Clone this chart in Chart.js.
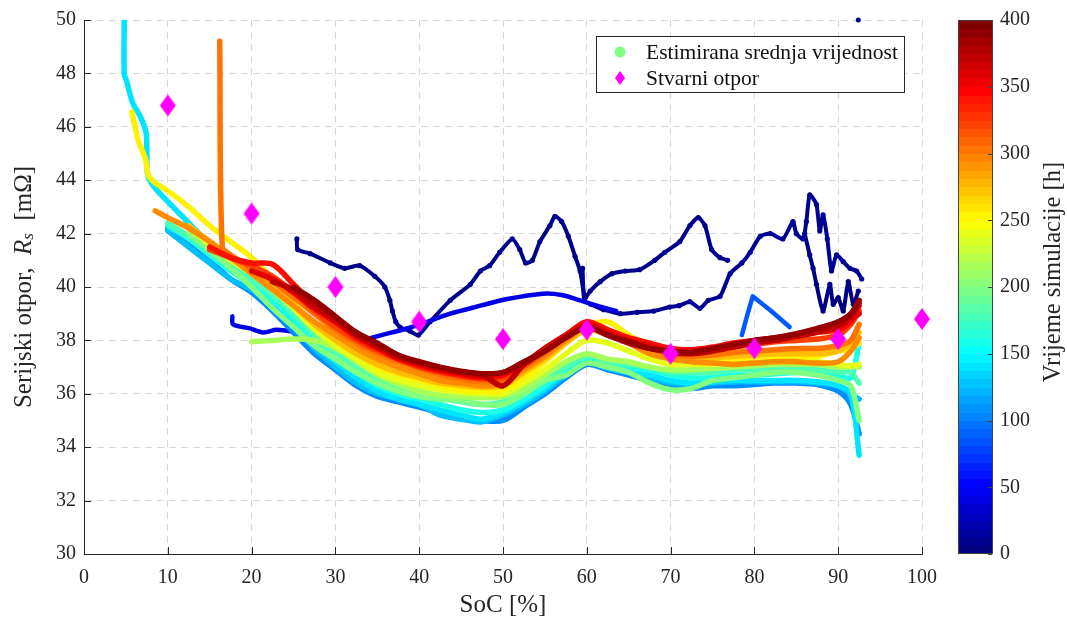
<!DOCTYPE html>
<html>
<head>
<meta charset="utf-8">
<script src="https://cdn.jsdelivr.net/npm/chart.js@4.4.1/dist/chart.umd.min.js"></script>
<style>
  html, body { margin: 0; padding: 0; background: #fff; }
  #wrap { position: relative; width: 1067px; height: 620px; }
</style>
</head>
<body>
<div id="wrap"><canvas id="rsChart" width="1067" height="620"></canvas></div>
<script>
const socGrid = [8.5, 10, 12.5, 15, 17.5, 20, 22.5, 25, 27.5, 30, 32.5, 35, 37.5, 40, 42.5, 45, 47.5, 50,
                 52.5, 55, 57.5, 60, 62.5, 65, 67.5, 70, 72.5, 75, 77.5, 80, 82.5, 85, 87.5, 90, 91.5, 92.5];

// band series, resistance in mOhm, one array per simulation time
const r105 = [null, 42.2, 41.7, 41.0, 40.3, 39.8, 39.1, 38.3, 37.5, 36.9, 36.3, 35.9, 35.7, 35.5, 35.3, 35.15, 35.0, 35.0, 35.5, 36.0, 36.6, 37.1, 36.9, 36.7, 36.5, 36.35, 36.2, 36.3, 36.3, 36.35, 36.4, 36.4, 36.35, 36.1, 35.6, 34.5];
const r125 = [null, 42.1, 41.5, 40.9, 40.3, 39.9, 39.3, 38.5, 37.7, 37.0, 36.4, 36.0, 35.8, 35.6, 35.2, 35.05, 34.95, 35.2, 35.6, 36.1, 36.7, 37.2, 36.95, 36.8, 36.6, 36.4, 36.35, 36.4, 36.45, 36.45, 36.45, 36.45, 36.4, 36.3, 36.0, 35.8];
const r140 = [43.7, 43.2, 42.4, 41.6, 41.0, 40.4, 39.6, 38.6, 37.8, 37.2, 36.6, 36.1, 35.8, 35.6, 35.4, 35.2, 35.05, 35.3, 35.7, 36.2, 36.8, 37.2, 37.0, 36.8, 36.7, 36.5, 36.4, 36.45, 36.5, 36.5, 36.5, 36.5, 36.45, 36.3, 36.0, 33.7];
const r160 = [null, 42.3, 41.8, 41.2, 40.6, 40.1, 39.5, 38.8, 38.0, 37.3, 36.8, 36.3, 36.0, 35.8, 35.6, 35.4, 35.3, 35.4, 35.8, 36.3, 36.9, 37.3, 37.1, 37.0, 36.9, 36.7, 36.6, 36.6, 36.7, 36.7, 36.75, 36.8, 36.8, 36.7, 36.6, 37.9];
const r180 = [null, 42.4, 41.9, 41.3, 40.8, 40.3, 39.7, 39.0, 38.2, 37.5, 37.0, 36.5, 36.2, 36.0, 35.85, 35.7, 35.6, 35.7, 36.0, 36.5, 37.0, 37.4, 37.2, 37.1, 37.0, 36.8, 36.8, 36.8, 36.9, 36.9, 36.9, 36.9, 36.9, 36.8, 36.8, 36.4];
const r200 = [null, null, 42.0, 41.4, 40.7, 40.0, 39.2, 38.5, 37.8, 37.3, 36.8, 36.4, 36.1, 35.9, 35.8, 35.75, 35.6, 35.6, 36.0, 36.5, 36.7, 37.15, 37.0, 36.8, 36.4, 36.15, 36.2, 36.5, 36.6, 36.7, 36.8, 36.8, 36.7, 36.5, 36.3, 35.0];
const r215 = [null, null, null, null, null, 37.95, 38.0, 38.05, 38.0, 37.7, 37.2, 36.7, 36.35, 36.1, 35.95, 35.9, 35.85, 35.9, 36.2, 36.7, 37.2, 37.5, 37.3, 37.2, 37.0, 36.9, 36.9, 36.95, 37.0, 37.05, 37.1, 37.1, 37.1, 37.0, 37.0, 37.0];
const r240 = [null, null, 42.2, 41.6, 41.0, 40.5, 39.9, 39.2, 38.4, 37.8, 37.3, 36.8, 36.5, 36.3, 36.15, 36.05, 36.0, 36.0, 36.4, 36.9, 37.5, 38.0, 37.9, 37.6, 37.3, 37.1, 37.1, 37.1, 37.15, 37.2, 37.2, 37.2, 37.2, 37.1, 37.05, 37.1];
const r255 = [43.9, 43.6, 43.0, 42.3, 41.7, 41.1, 40.3, 39.4, 38.6, 38.0, 37.5, 37.0, 36.7, 36.5, 36.3, 36.15, 36.1, 36.15, 36.6, 37.2, 37.9, 38.5, 38.7, 38.2, 37.8, 37.5, 37.35, 37.3, 37.3, 37.3, 37.35, 37.4, 37.4, 37.6, 37.7, 37.9];
const r275 = [null, null, 42.3, 41.7, 41.1, 40.6, 40.0, 39.3, 38.6, 38.0, 37.5, 37.1, 36.8, 36.6, 36.4, 36.3, 36.25, 36.3, 36.8, 37.3, 37.9, 38.4, 38.2, 37.9, 37.6, 37.4, 37.3, 37.35, 37.4, 37.45, 37.5, 37.5, 37.5, 37.6, 37.9, 38.3];
const r295 = [42.85, 42.6, 42.2, 41.7, 41.1, 40.5, 39.9, 39.3, 38.7, 38.2, 37.7, 37.3, 37.0, 36.75, 36.5, 36.4, 36.3, 36.4, 36.9, 37.4, 38.0, 38.5, 38.3, 37.9, 37.5, 37.3, 37.2, 37.15, 37.1, 37.15, 37.2, 37.2, 37.15, 37.2, 37.6, 38.1];
const r305 = [null, null, null, null, 41.2, 40.7, 40.2, 39.6, 39.0, 38.4, 37.9, 37.5, 37.2, 36.95, 36.7, 36.55, 36.45, 36.5, 37.0, 37.5, 38.1, 38.6, 38.4, 38.0, 37.7, 37.5, 37.4, 37.45, 37.55, 37.6, 37.65, 37.7, 37.7, 37.8, 38.0, 38.6];
const r325 = [null, null, null, 41.4, 41.1, 40.8, 40.4, 39.8, 39.1, 38.5, 38.0, 37.6, 37.3, 37.0, 36.8, 36.65, 36.55, 36.6, 37.05, 37.6, 38.15, 38.6, 38.3, 38.0, 37.75, 37.6, 37.55, 37.65, 37.75, 37.85, 37.95, 38.0, 38.05, 38.2, 38.6, 39.1];
const r345 = [null, null, null, 41.5, 41.1, 40.9, 40.85, 40.1, 39.3, 38.7, 38.1, 37.7, 37.3, 37.05, 36.85, 36.7, 36.6, 36.7, 37.1, 37.7, 38.2, 38.7, 38.4, 38.1, 37.9, 37.7, 37.65, 37.75, 37.9, 38.0, 38.1, 38.2, 38.3, 38.4, 38.7, 39.3];
const r360 = [null, null, null, null, null, 40.6, 40.3, 39.8, 39.2, 38.7, 38.2, 37.75, 37.35, 37.1, 36.9, 36.75, 36.65, 36.75, 37.15, 37.7, 38.2, 38.6, 38.3, 38.0, 37.8, 37.6, 37.6, 37.7, 37.85, 37.95, 38.05, 38.2, 38.35, 38.5, 38.8, 39.0];
const r375 = [null, null, null, null, null, null, 40.2, 39.9, 39.3, 38.8, 38.2, 37.8, 37.4, 37.15, 36.95, 36.8, 36.7, 36.3, 37.1, 37.6, 38.1, 38.5, 38.2, 37.9, 37.7, 37.55, 37.5, 37.6, 37.75, 37.9, 38.0, 38.15, 38.3, 38.55, 38.9, 39.4];
const r392 = [null, null, null, null, null, null, null, 40.0, 39.5, 38.9, 38.3, 37.9, 37.45, 37.2, 37.0, 36.85, 36.75, 36.8, 37.2, 37.6, 38.1, 38.5, 38.2, 37.95, 37.7, 37.6, 37.55, 37.7, 37.85, 38.0, 38.1, 38.25, 38.45, 38.7, 39.0, 39.5];

// starting parts of some band series (before the common grid)
const cyanHeadSoc = [4.8, 4.8, 5.1, 5.8, 6.7, 7.4, 7.5, 7.6];
const cyanHeadR = [50.0, 48.0, 47.7, 46.9, 46.4, 45.8, 45.1, 44.2];
const yellowHeadSoc = [5.7, 6.1, 6.5, 7.1, 7.4, 7.65];
const yellowHeadR = [46.55, 46.0, 45.45, 45.0, 44.7, 44.2];
const orangeHeadSoc = [16.2, 16.5];
const orangeHeadR = [49.2, 41.5];

// early (dark blue) series
const navyASoc = [25.4, 25.5, 27, 29.4, 31.1, 32.9, 34.7, 35.9, 36.5, 36.8, 37.2, 37.7, 38.9, 39.9, 41.3, 43.7, 46.1, 47.3, 48.4, 49.6, 51.1, 52.0, 52.7, 53.5, 54.4, 55.6, 56.2, 57.0, 57.8, 58.6, 59.2, 59.8, 60.4, 61.6, 63.0, 64.6, 66.3, 68.1, 69.3, 71.1, 72.3, 73.3, 74.1, 74.9, 75.9, 76.8];
const navyAR = [41.8, 41.4, 41.25, 40.9, 40.7, 40.8, 40.4, 40.0, 39.5, 39.1, 38.7, 38.5, 38.35, 38.2, 38.7, 39.5, 40.1, 40.6, 40.8, 41.3, 41.8, 41.4, 40.9, 41.0, 41.7, 42.3, 42.65, 42.45, 41.9, 41.15, 40.6, 39.6, 39.85, 40.2, 40.5, 40.6, 40.65, 41.0, 41.3, 41.7, 42.3, 42.6, 42.3, 41.4, 41.1, 41.0];
const navyBSoc = [59.5, 59.7, 60.5, 62, 64, 66, 68, 69.9, 71, 72.3, 73.5, 74.5, 75.9, 77.1, 78.5, 79.5, 80.7, 81.9, 83.4, 84.6, 85.0, 85.8, 86.2, 86.6, 87.4, 87.8, 88.2, 88.7, 89.2, 89.8, 90.6, 91.4, 92.2, 92.8];
const navyBR = [40.7, 39.5, 39.35, 39.15, 39.0, 39.05, 39.1, 39.25, 39.3, 39.45, 39.2, 39.5, 39.65, 40.5, 40.9, 41.3, 41.9, 42.0, 41.8, 42.45, 42.0, 41.8, 42.45, 43.45, 43.1, 42.1, 42.7, 41.8, 40.6, 41.2, 40.95, 40.7, 40.6, 40.3];
const navyCSoc = [86.0, 86.6, 87.0, 87.4, 88.2, 89.0, 89.4, 90.0, 90.6, 91.2, 91.8, 92.4];
const navyCR = [42.0, 41.2, 40.7, 40.1, 39.1, 40.1, 39.35, 39.6, 39.1, 40.2, 39.35, 39.85];
const navyDotSoc = [92.4];
const navyDotR = [50.0];
const blueSoc = [17.7, 17.8, 19.8, 21.4, 23.0, 25.5, 28.5, 31.0, 33.0, 35.5, 38.0, 40.1, 43.7, 47.3, 50.5, 54.8, 57.0, 59.2, 61.2, 63.5];
const blueR = [38.9, 38.6, 38.45, 38.3, 38.4, 38.3, 38.15, 38.0, 38.0, 38.2, 38.4, 38.6, 39.0, 39.3, 39.55, 39.75, 39.7, 39.5, 39.3, 39.1];
const blue2Soc = [78.5, 79.2, 79.8, 82.0, 84.2];
const blue2R = [38.2, 39.0, 39.65, 39.1, 38.5];

// measured resistance (diamonds)
const refSoc = [10, 20, 30, 40, 50, 60, 70, 80, 90, 100];
const refR = [46.8, 42.75, 40.0, 38.7, 38.05, 38.4, 37.5, 37.7, 38.05, 38.8];

// MATLAB jet colormap
function jet(v) {
  const c = x => Math.max(0, Math.min(1, x));
  const r = c(Math.min(4 * v - 1.5, -4 * v + 4.5));
  const g = c(Math.min(4 * v - 0.5, -4 * v + 3.5));
  const b = c(Math.min(4 * v + 0.5, -4 * v + 2.5));
  return `rgb(${Math.round(r * 255)},${Math.round(g * 255)},${Math.round(b * 255)})`;
}
const tColor = t => jet(t / 400);

function pts(xs, ys) {
  const out = [];
  xs.forEach((x, i) => { if (ys[i] !== null) out.push({ x: x, y: ys[i] }); });
  return out;
}

// diamond marker as an image
const diamond = document.createElement('canvas');
diamond.width = 18; diamond.height = 24;
(function () {
  const c = diamond.getContext('2d');
  c.fillStyle = '#ff00ff';
  c.beginPath();
  c.moveTo(9, 1); c.lineTo(17, 12); c.lineTo(9, 23); c.lineTo(1, 12); c.closePath();
  c.fill();
})();

const datasets = [];
function addLine(t, data, width, extra) {
  datasets.push(Object.assign({
    data: data, borderColor: tColor(t), backgroundColor: tColor(t),
    borderWidth: width, pointRadius: 0, showLine: true, fill: false
  }, extra || {}));
}

// dotted early series: thick line plus dots at the read points
const dotted = { pointRadius: 2.6, pointBorderWidth: 0, tension: 0.2 };
addLine(3, pts(navyCSoc, navyCR), 4, dotted);
addLine(5, pts(navyASoc, navyAR), 4, dotted);
addLine(8, pts(navyBSoc, navyBR), 4, dotted);
addLine(8, pts(navyDotSoc, navyDotR), 0, { showLine: false, pointRadius: 2.5, clip: false });
addLine(40, pts(blueSoc, blueR), 4.5);
addLine(85, pts(blue2Soc, blue2R), 4.5, { tension: 0 });

const bands = [
  [105, r105], [125, r125], [140, r140], [160, r160], [180, r180], [200, r200], [215, r215],
  [240, r240], [255, r255], [275, r275], [295, r295], [305, r305], [325, r325], [345, r345],
  [360, r360], [375, r375], [392, r392]
];
bands.forEach(([t, vals]) => {
  let data = pts(socGrid, vals);
  if (t === 140) data = pts(cyanHeadSoc, cyanHeadR).concat(data);
  if (t === 255) data = pts(yellowHeadSoc, yellowHeadR).concat(data);
  if (t === 305) data = pts(orangeHeadSoc, orangeHeadR).concat(data);
  addLine(t, data, 5.5);
});

datasets.push({
  data: pts(refSoc, refR), showLine: false, pointStyle: diamond, pointRadius: 10,
  borderColor: '#ff00ff', backgroundColor: '#ff00ff', clip: false
});
datasets.forEach((d, i) => { d.order = -i; });

const FONT = '"Liberation Serif", "Times New Roman", serif';
const INK = '#262626';

const decor = {
  id: 'decor',
  afterDatasetsDraw(chart) {
    const ctx = chart.ctx;
    // legend box
    ctx.save();
    ctx.fillStyle = '#fff';
    ctx.fillRect(596, 36, 308, 56);
    ctx.strokeStyle = INK;
    ctx.lineWidth = 1;
    ctx.strokeRect(596.5, 36.5, 308, 56);
    ctx.fillStyle = tColor(200);
    ctx.beginPath(); ctx.arc(620, 52, 5.5, 0, Math.PI * 2); ctx.fill();
    ctx.fillStyle = '#ff00ff';
    ctx.beginPath();
    ctx.moveTo(620, 71); ctx.lineTo(625, 78); ctx.lineTo(620, 85); ctx.lineTo(615, 78); ctx.closePath();
    ctx.fill();
    ctx.fillStyle = '#111';
    ctx.font = '21.5px ' + FONT;
    ctx.textBaseline = 'middle';
    ctx.textAlign = 'left';
    ctx.fillText('Estimirana srednja vrijednost', 646, 53);
    ctx.fillText('Stvarni otpor', 646, 79);
    ctx.restore();
  },
  afterDraw(chart) {
    const ctx = chart.ctx;
    const xs = chart.scales.x, ys = chart.scales.y, cs = chart.scales.y2;
    const area = chart.chartArea;
    ctx.save();
    ctx.strokeStyle = INK;
    ctx.lineWidth = 1;
    // inward tick marks
    xs.ticks.forEach(tk => {
      const px = Math.round(xs.getPixelForValue(tk.value)) + 0.5;
      ctx.beginPath(); ctx.moveTo(px, area.bottom); ctx.lineTo(px, area.bottom - 7); ctx.stroke();
    });
    ys.ticks.forEach(tk => {
      const py = Math.round(ys.getPixelForValue(tk.value)) + 0.5;
      ctx.beginPath(); ctx.moveTo(area.left, py); ctx.lineTo(area.left + 7, py); ctx.stroke();
    });
    // colorbar
    const x0 = 958, x1 = 993;
    const top = cs.getPixelForValue(400), bot = cs.getPixelForValue(0);
    const n = 64;
    for (let k = 0; k < n; k++) {
      const ya = bot - (bot - top) * k / n, yb = bot - (bot - top) * (k + 1) / n;
      ctx.fillStyle = jet(k / (n - 1));
      ctx.fillRect(x0, Math.floor(yb), x1 - x0, Math.ceil(ya) - Math.floor(yb));
    }
    ctx.strokeStyle = '#444';
    ctx.strokeRect(x0 + 0.5, top + 0.5, x1 - x0 - 1, bot - top - 1);
    cs.ticks.forEach(tk => {
      const py = Math.round(cs.getPixelForValue(tk.value)) + 0.5;
      ctx.beginPath(); ctx.moveTo(x1 - 1, py); ctx.lineTo(x1 - 5, py); ctx.stroke();
    });
    // colorbar label
    ctx.fillStyle = INK;
    ctx.font = '24.5px ' + FONT;
    ctx.textAlign = 'center';
    ctx.textBaseline = 'middle';
    ctx.save();
    ctx.translate(1054, 272);
    ctx.rotate(-Math.PI / 2);
    ctx.fillText('Vrijeme simulacije [h]', 0, 0);
    ctx.restore();
    // y axis label with italic R and subscript s
    const parts = [
      { t: 'Serijski otpor,  ', f: '25px ' + FONT, dy: 0 },
      { t: 'R', f: 'italic 25px ' + FONT, dy: 0 },
      { t: 's', f: 'italic 17px ' + FONT, dy: 5 },
      { t: '  [mΩ]', f: '25px ' + FONT, dy: 0 }
    ];
    let total = 0;
    parts.forEach(p => { ctx.font = p.f; p.w = ctx.measureText(p.t).width; total += p.w; });
    ctx.save();
    ctx.translate(24, (area.top + area.bottom) / 2);
    ctx.rotate(-Math.PI / 2);
    ctx.textAlign = 'left';
    ctx.textBaseline = 'middle';
    let cx = -total / 2;
    parts.forEach(p => { ctx.font = p.f; ctx.fillText(p.t, cx, p.dy); cx += p.w; });
    ctx.restore();
    ctx.restore();
  }
};

const tickFont = { family: FONT, size: 20 };

new Chart(document.getElementById('rsChart'), {
  type: 'line',
  data: { datasets: datasets },
  options: {
    responsive: false,
    animation: false,
    devicePixelRatio: 1,
    layout: { padding: { top: 18, left: 0, right: 0, bottom: 0 } },
    elements: {
      point: { radius: 0, hoverRadius: 0 },
      line: { tension: 0.3, borderCapStyle: 'round', borderJoinStyle: 'round' }
    },
    plugins: { legend: { display: false }, tooltip: { enabled: false } },
    scales: {
      x: {
        type: 'linear', min: 0, max: 100,
        ticks: { stepSize: 10, color: INK, font: tickFont, padding: 12, maxRotation: 0 },
        grid: { color: '#d9d9d9', drawTicks: false },
        border: { display: true, color: INK, width: 1, dash: [7, 5] },
        title: { display: true, text: 'SoC [%]', color: INK, font: { family: FONT, size: 25 }, padding: { top: 0, bottom: 0 } },
        afterFit: s => { s.height = 66; }
      },
      y: {
        type: 'linear', min: 30, max: 50,
        ticks: { stepSize: 2, color: INK, font: tickFont, padding: 8 },
        grid: { color: '#d9d9d9', drawTicks: false },
        border: { display: true, color: INK, width: 1, dash: [7, 5] },
        afterFit: s => { s.width = 84; }
      },
      y2: {
        type: 'linear', position: 'right', min: 0, max: 400,
        ticks: { stepSize: 50, color: INK, font: tickFont, padding: 0 },
        grid: { display: false, drawTicks: true, tickLength: 78 },
        border: { display: false },
        afterFit: s => { s.width = 145; }
      }
    }
  },
  plugins: [decor]
});
</script>
</body>
</html>
